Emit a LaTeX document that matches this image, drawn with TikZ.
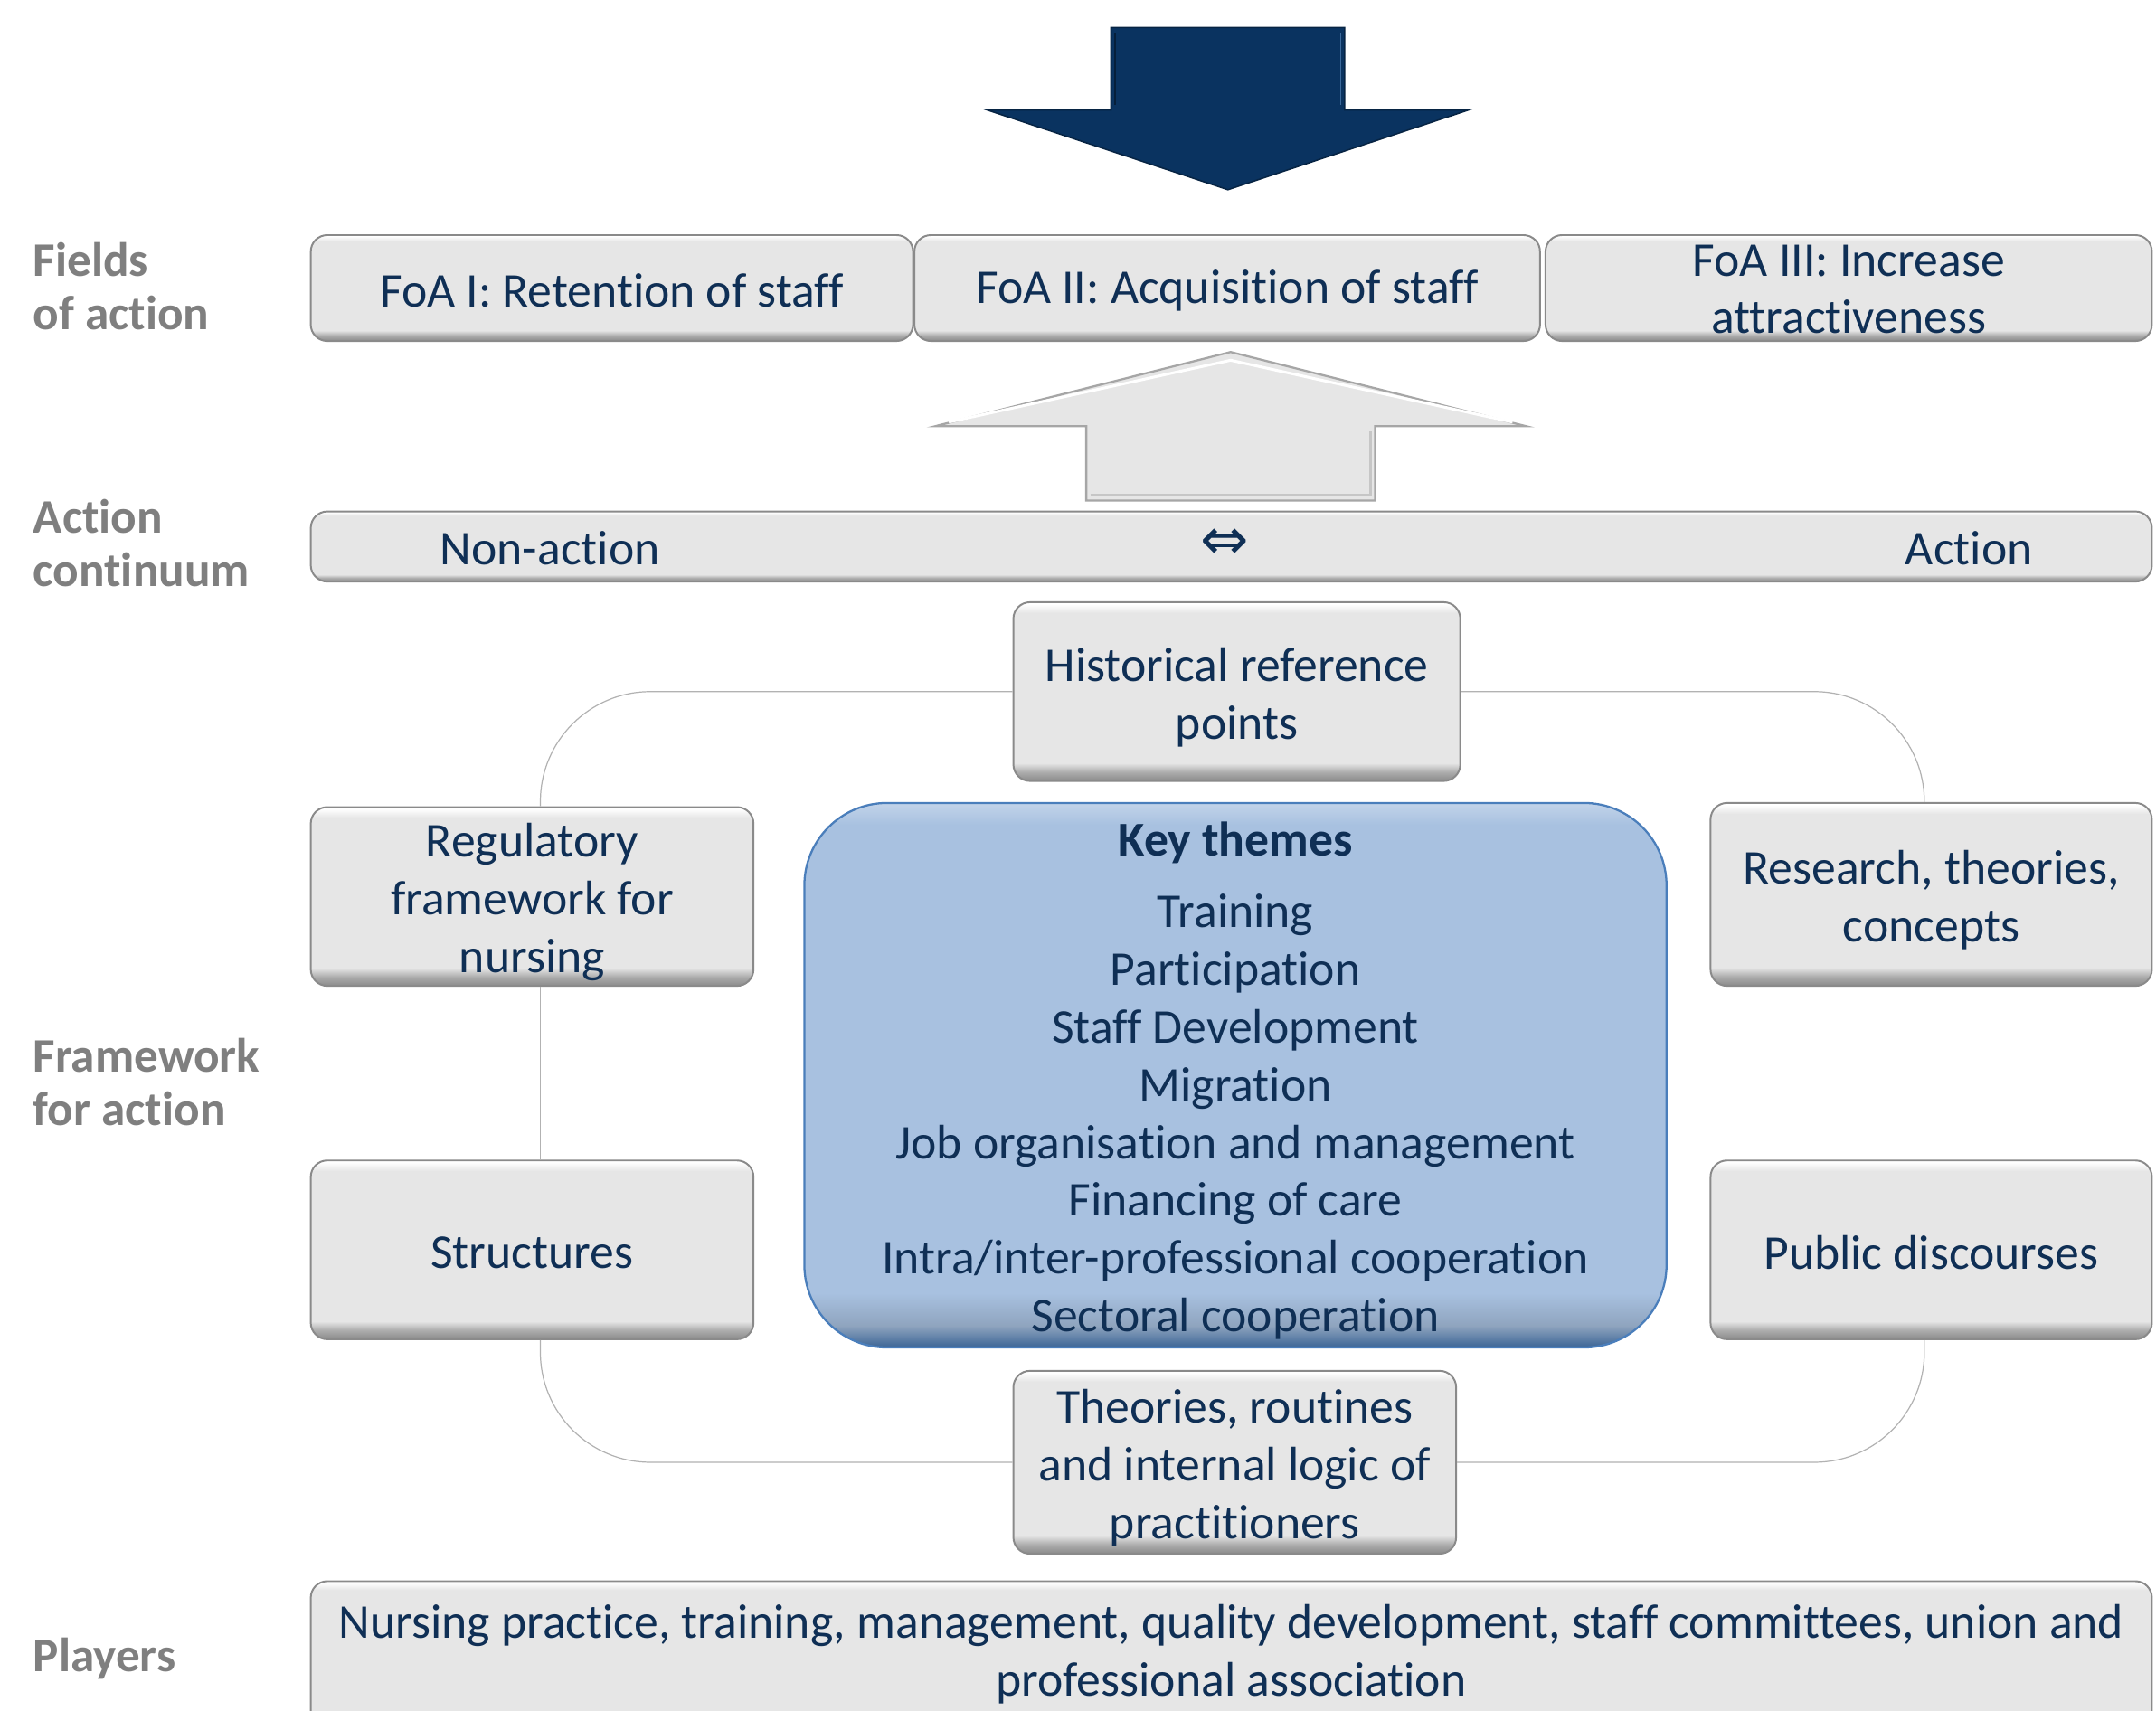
\documentclass[tikz,border=0pt]{standalone}
\usepackage{fontspec}
\setmainfont{Carlito}[Ligatures=NoCommon]
\newfontfamily\symfont{DejaVu Sans}
\definecolor{ink}{HTML}{0F2F55}
\definecolor{labelgray}{HTML}{7F7F7F}
\definecolor{navy}{HTML}{0A3360}
\definecolor{navylight}{HTML}{3C6A9C}
\definecolor{boxfill}{HTML}{E6E6E6}
\definecolor{boxedge}{HTML}{8A8A8A}
\definecolor{themefill}{HTML}{A8C1E0}
\definecolor{themeedge}{HTML}{4A7EBB}
% grey bevel: dark band at the bottom, light rim at the top
\pgfdeclareverticalshading{bevelgray}{100bp}{color(0bp)=(boxedge); color(25bp)=(boxedge); color(27.5bp)=(boxfill!75!black); color(30bp)=(boxfill); color(72bp)=(boxfill); color(74.5bp)=(white); color(100bp)=(white)}
\pgfdeclareverticalshading{bevelblue}{100bp}{color(0bp)=(themeedge); color(25bp)=(themeedge!80!black); color(27bp)=(themefill!85!black); color(30bp)=(themefill); color(73bp)=(themefill); color(75bp)=(themefill!70!white); color(100bp)=(white)}
\begin{document}
\begin{tikzpicture}[x=1pt,y=-1pt,
  txt/.style={font=\fontsize{35.3}{42}\selectfont, text=ink},
  boxtext/.style={txt, align=center, inner sep=0pt, yshift=-4pt},
  box/.style={draw=boxedge, line width=1.3pt, rounded corners=12pt,
    shading=bevelgray, inner sep=0pt},
  themebox/.style={draw=themeedge, line width=1.5pt, rounded corners=60pt,
    shading=bevelblue, inner sep=0pt},
  rowlabel/.style={font=\fontsize{35}{39}\bfseries\selectfont, text=labelgray,
    align=left, anchor=west, inner sep=0pt},
  loopline/.style={draw=gray!60, line width=0.8pt, rounded corners=80pt}]

\useasboundingbox[fill=white] (0,0) rectangle (1568,1244);

% row labels
\node[rowlabel] (lfields) at (24,208) {Fields\\of action};
\node[rowlabel] (lcont) at (24,395) {Action\\continuum};
\node[rowlabel] (lframe) at (24,787) {Framework\\for action};
\node[rowlabel] (lplay) at (24,1206) {Players};

% big downward arrow
\filldraw[fill=navy, draw=navy!70!black, line width=1pt]
  (808,20) -- (978,20) -- (978,80) -- (1068,80) -- (893,138) -- (718,80) -- (808,80) -- cycle;
\draw[navylight, line width=1.2pt] (975,24) -- (975,76);
\draw[navy!60!black, line width=1.2pt] (811,24) -- (811,76);

% fields of action
\node[box, minimum width=438pt, minimum height=77pt,
  label={[boxtext, yshift=2pt]center:FoA I: Retention of staff}] (foa1) at (445,209.5) {};
\node[box, minimum width=455pt, minimum height=77pt,
  label={[boxtext, yshift=2pt]center:FoA II: Acquisition of staff}] (foa2) at (892.5,209.5) {};
\node[box, minimum width=441pt, minimum height=77pt,
  label={[boxtext, yshift=3pt]center:{FoA III: Increase\\attractiveness}}] (foa3) at (1344.5,209.5) {};

% upward arrow
\filldraw[fill=boxfill, draw=gray!70, line width=1.5pt]
  (895,256) -- (1110,310) -- (1000,310) -- (1000,364) -- (790,364) -- (790,310) -- (680,310) -- cycle;
\draw[white, line width=2pt] (690,307) -- (895,262) -- (1100,307);
\draw[gray!45, line width=2pt] (793,360) -- (997,360) -- (997,314);

% action continuum
\node[box, minimum width=1339pt, minimum height=51pt] (cont) at (895.5,397.5) {};
\node[txt] (nonact) at (400,399) {Non-action};
\node[txt, font=\symfont\fontsize{42}{46}\selectfont] (both) at (891,396) {⇔};
\node[txt] (act) at (1432,399) {Action};

% framework for action
\node[box, minimum width=325pt, minimum height=130pt,
  label={[boxtext]center:{Historical reference\\points}}] (hist) at (899.5,503) {};
\node[box, minimum width=322pt, minimum height=130pt,
  label={[boxtext]center:{Regulatory\\framework for\\nursing}}] (reg) at (387,652) {};
\node[box, minimum width=321pt, minimum height=133pt,
  label={[boxtext]center:{Research, theories,\\concepts}}] (res) at (1404.5,650.5) {};
\node[box, minimum width=322pt, minimum height=130pt,
  label={[boxtext, yshift=2pt]center:Structures}] (struct) at (387,909) {};
\node[box, minimum width=321pt, minimum height=130pt,
  label={[boxtext, yshift=2pt]center:Public discourses}] (pub) at (1404.5,909) {};
\node[box, minimum width=322pt, minimum height=133pt,
  label={[boxtext]center:{Theories, routines\\and internal logic of\\practitioners}}] (theo) at (898,1063.5) {};
\node[themebox, minimum width=627pt, minimum height=396pt,
  label={[boxtext]center:{\textbf{Key themes}\\[10pt]Training\\Participation\\Staff Development\\Migration\\Job organisation and management\\Financing of care\\Intra/inter-professional cooperation\\Sectoral cooperation}}] (key) at (898.5,782) {};

% ring linking the framework boxes
\draw[loopline] ([xshift=6pt]reg.north) |- (hist.west);
\draw[loopline] ([xshift=6pt]reg.south) -- ([xshift=6pt]struct.north);
\draw[loopline] ([xshift=6pt]struct.south) |- (theo.west);
\draw[loopline] (theo.east) -| ([xshift=-5pt]pub.south);
\draw[loopline] ([xshift=-5pt]pub.north) -- ([xshift=-5pt]res.south);
\draw[loopline] ([xshift=-5pt]res.north) |- (hist.east);

% players
\node[box, minimum width=1339pt, minimum height=108pt,
  label={[boxtext, yshift=5pt]center:{Nursing practice, training, management, quality development, staff committees, union and\\professional association}}] (play) at (895.5,1204) {};
\end{tikzpicture}
\end{document}
